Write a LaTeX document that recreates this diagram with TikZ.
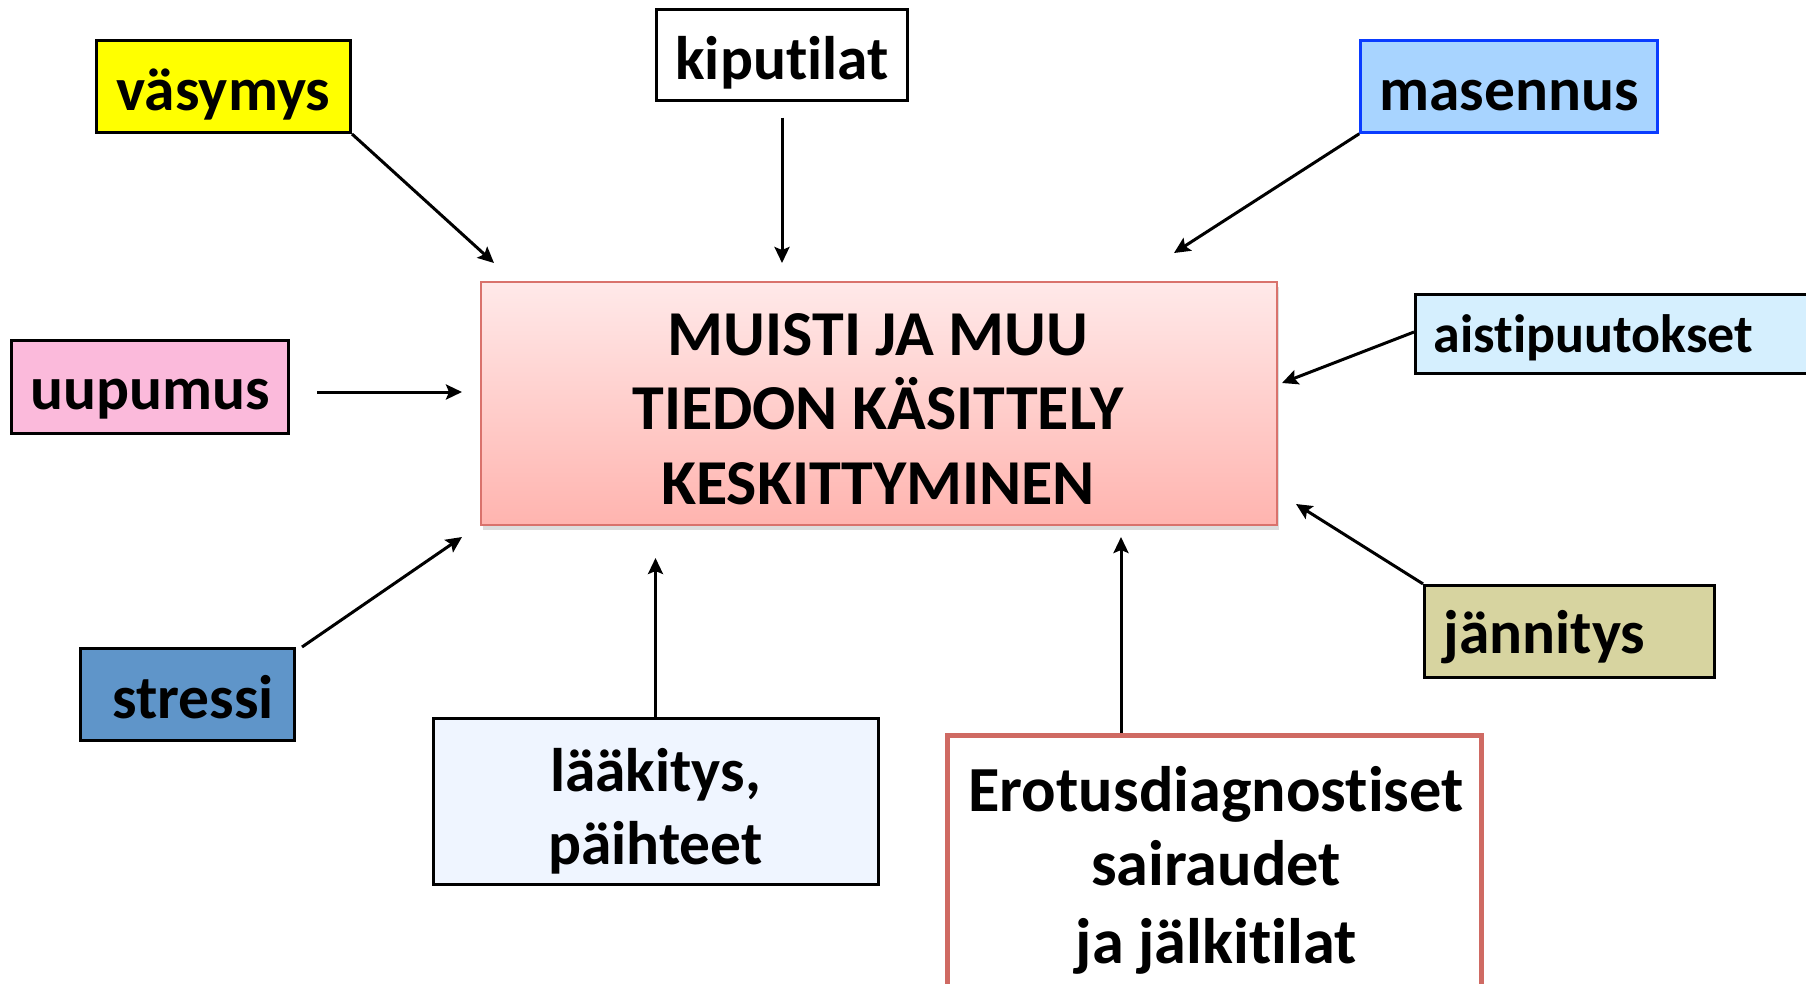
\documentclass[tikz,border=0pt]{standalone}
\usepackage{fontspec}
\setmainfont{Carlito}[Ligatures=NoCommon]
\usetikzlibrary{arrows.meta,shadows}

\definecolor{cYellow}{HTML}{FFFF00}
\definecolor{cMasFill}{HTML}{A8D4FF}
\definecolor{cMasLine}{HTML}{0A3CFF}
\definecolor{cPink}{HTML}{FBBADB}
\definecolor{cSense}{HTML}{D5EFFE}
\definecolor{cKhaki}{HTML}{D7D4A0}
\definecolor{cSteel}{HTML}{5F95C9}
\definecolor{cMed}{HTML}{EFF5FF}
\definecolor{cCoreTop}{HTML}{FFE9E9}
\definecolor{cCoreBot}{HTML}{FFB4AF}
\definecolor{cCoreLine}{HTML}{D9726C}
\definecolor{cDiagLine}{HTML}{CF6A63}

\newcommand\tagfont{\fontsize{61.5}{73}\selectfont\bfseries}
\newcommand\sensefont{\fontsize{54}{64}\selectfont\bfseries}
\newcommand\corefont{\fontsize{64}{74.5}\selectfont\bfseries}
\newcommand\diagfont{\fontsize{64.3}{74}\selectfont\bfseries}

\begin{document}
\begin{tikzpicture}[x=1pt,y=-1pt,
  box/.style={draw=black, line width=3pt, inner sep=0pt, font=\tagfont},
  txt/.style={inner sep=0pt, align=center},
  arr/.style={line width=3pt, -{Stealth[length=16pt,width=15pt,inset=3pt]}},
]
\useasboundingbox (0,0) rectangle (1806,983);
\clip (0,0) rectangle (1806,983);

% central box
\node[draw=cCoreLine, line width=2pt, top color=cCoreTop, bottom color=cCoreBot,
      drop shadow={shadow xshift=2pt, shadow yshift=-5pt, opacity=0.22, fill=black!60},
      minimum width=796pt, minimum height=243pt] (core) at (879,403.5) {};
\node[txt, anchor=north, font=\corefont] (coretxt) at (878,313)
  {MUISTI JA MUU\\TIEDON KÄSITTELY\\KESKITTYMINEN};

% surrounding factors
\node[box, fill=cYellow, minimum width=254pt, minimum height=92pt,
      text height=47pt, text depth=0pt] (vas) at (223.5,86.5) {väsymys};
\node[box, fill=white, minimum width=251pt, minimum height=91pt,
      text height=50pt, text depth=0pt] (kip) at (782,54.5) {kiputilat};
\node[box, draw=cMasLine, line width=2.5pt, fill=cMasFill, minimum width=297pt, minimum height=92pt,
      text height=47pt, text depth=0pt] (mas) at (1509,86.5) {masennus};
\node[box, fill=cPink, minimum width=277pt, minimum height=93pt,
      text height=44pt, text depth=0pt] (uup) at (150,387) {uupumus};
\node[box, fill=cSense, font=\sensefont, minimum height=79pt, inner xsep=18pt, text width=377pt, align=left,
      text height=37pt, text depth=0pt] (ais) at (1622,334) {aistipuutokset};
\node[box, fill=cKhaki, minimum height=92pt, inner xsep=19pt, text width=252pt, align=left,
      text height=45pt, text depth=0pt] (jan) at (1569.5,631.4) {jännitys};
\node[box, fill=cSteel, minimum width=214pt, minimum height=92pt,
      text height=47.5pt, text depth=0pt] (str) at (187.5,694.5) {\hspace*{11pt}stressi};

\node[box, fill=cMed, minimum width=445pt, minimum height=166pt] (laa) at (655.5,801.5) {};
\node[txt, anchor=north, font=\tagfont] (laatxt) at (655.5,748) {lääkitys,\\päihteet};

\node[box, draw=cDiagLine, line width=5pt, fill=white, minimum width=534pt, minimum height=300pt]
  (ero) at (1214,885.5) {};
\node[txt, anchor=north, font=\diagfont] (erotxt) at (1216,766)
  {Erotusdiagnostiset\\sairaudet\\[4pt]ja jälkitilat};

% arrow end points next to the central box
\coordinate (vasE) at (494,263);
\coordinate (kipE) at (782,263);
\coordinate (masE) at (1174,253);
\coordinate (uupE) at (462,392);
\coordinate (aisE) at (1282,383);
\coordinate (strE) at (462,537);
\coordinate (laaE) at (655.5,558);
\coordinate (eroE) at (1121,537);
\coordinate (janE) at (1296,504);

% influences
\draw[arr] (vas.south east) -- (vasE);
\draw[arr] ([yshift=-16pt]kip.south) -- (kipE);
\draw[arr] (mas.south west) -- (masE);
\draw[arr] ([xshift=27pt,yshift=-5pt]uup.east) -- (uupE);
\draw[arr] ([yshift=2pt]ais.west) -- (aisE);
\draw[arr] ([xshift=6pt]str.north east) -- (strE);
\draw[arr] (laaE |- laa.north) -- (laaE);
\draw[arr] (eroE |- ero.north) -- (eroE);
\draw[arr] (jan.north west) -- (janE);
\end{tikzpicture}
\end{document}
